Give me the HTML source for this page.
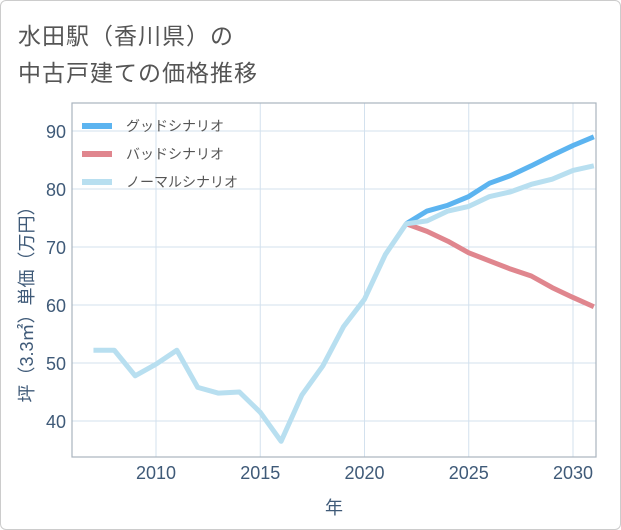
<!DOCTYPE html>
<html><head><meta charset="utf-8"><style>
body{margin:0;background:#fff;font-family:"Liberation Sans","Noto Sans CJK JP",sans-serif}
#wrap{position:absolute;left:0;top:0;width:619px;height:528px;border:1px solid #ccc;border-radius:6px}
.t{position:absolute;left:18px;font-size:23px;color:#555;letter-spacing:1px}
</style></head><body>
<div id="wrap"></div>
<div class="t" style="top:17px">水田駅（香川県）の</div>
<div class="t" style="top:54px">中古戸建ての価格推移</div>
<svg id="c" width="621" height="530" style="position:absolute;left:0;top:0"></svg>
<script>
const years=[2007,2008,2009,2010,2011,2012,2013,2014,2015,2016,2017,2018,2019,2020,2021,2022,2023,2024,2025,2026,2027,2028,2029,2030,2031];
const normal=[52.2,52.2,47.8,49.8,52.2,45.8,44.8,45,41.5,36.5,44.5,49.5,56.3,61,68.7,74,74.5,76.2,77,78.7,79.5,80.8,81.7,83.2,84];
const futYears=[2022,2023,2024,2025,2026,2027,2028,2029,2030,2031];
const good=[74,76.2,77.2,78.7,81,82.3,84,85.8,87.5,89];
const bad=[74,72.7,71,69,67.6,66.2,65,63,61.3,59.7];
const xTicks=[2010,2015,2020,2025,2030];
const yTicks=[40,50,60,70,80,90];
const L=72,R=596,T=103,B=457;
const x=v=>156+(v-2010)*20.85;
const y=v=>131+(90-v)*5.8;
const s=document.getElementById('c');const NS='http://www.w3.org/2000/svg';
function mk(t,a){const e=document.createElementNS(NS,t);for(const k in a)e.setAttribute(k,a[k]);s.appendChild(e);return e;}
let e=mk('rect',{x:L,y:T,width:R-L,height:B-T,fill:'#fff'});


xTicks.forEach(v=>{let g=mk('line',{x1:x(v),x2:x(v),y1:T,y2:B,stroke:'#d3e1ee','stroke-width':1});


let t=mk('text',{x:x(v),y:B+22,'text-anchor':'middle','font-size':18,fill:'#3f5a78'});t.textContent=v;

});
yTicks.forEach(v=>{let g=mk('line',{x1:L,x2:R,y1:y(v),y2:y(v),stroke:'#d3e1ee','stroke-width':1});


let t=mk('text',{x:L-6,y:y(v)+7,'text-anchor':'end','font-size':18,fill:'#3f5a78'});t.textContent=v;

});
e=mk('rect',{x:L,y:T,width:R-L,height:B-T,fill:'none',stroke:'#a9b4bf','stroke-width':1.2});


function line(xs,ys,c,n){const p=mk('polyline',{points:xs.map((v,i)=>x(v)+','+y(ys[i])).join(' '),fill:'none',stroke:c,'stroke-width':5,'stroke-linejoin':'round'});

}
line(futYears,bad,'#e0868e','bad-scenario-line');
line(futYears,good,'#5cb4f0','good-scenario-line');
line(years,normal,'#b8dff0','normal-scenario-line');
const leg=[['グッドシナリオ','#5cb4f0'],['バッドシナリオ','#e0868e'],['ノーマルシナリオ','#b8dff0']];
leg.forEach((l,i)=>{const yy=126+i*28;let r=mk('line',{x1:82,x2:112,y1:yy,y2:yy,stroke:l[1],'stroke-width':6});


let t=mk('text',{x:126,y:yy+5,'font-size':14,fill:'#555'});t.textContent=l[0];

});
let xt=mk('text',{x:334,y:514,'text-anchor':'middle','font-size':18,fill:'#3f5a78'});xt.textContent='年';


let yt=mk('text',{x:0,y:0,'text-anchor':'middle','font-size':18,fill:'#3f5a78',transform:'translate(33,300) rotate(-90)'});yt.textContent='坪（3.3㎡）単価（万円）';


</script>
</body></html>
